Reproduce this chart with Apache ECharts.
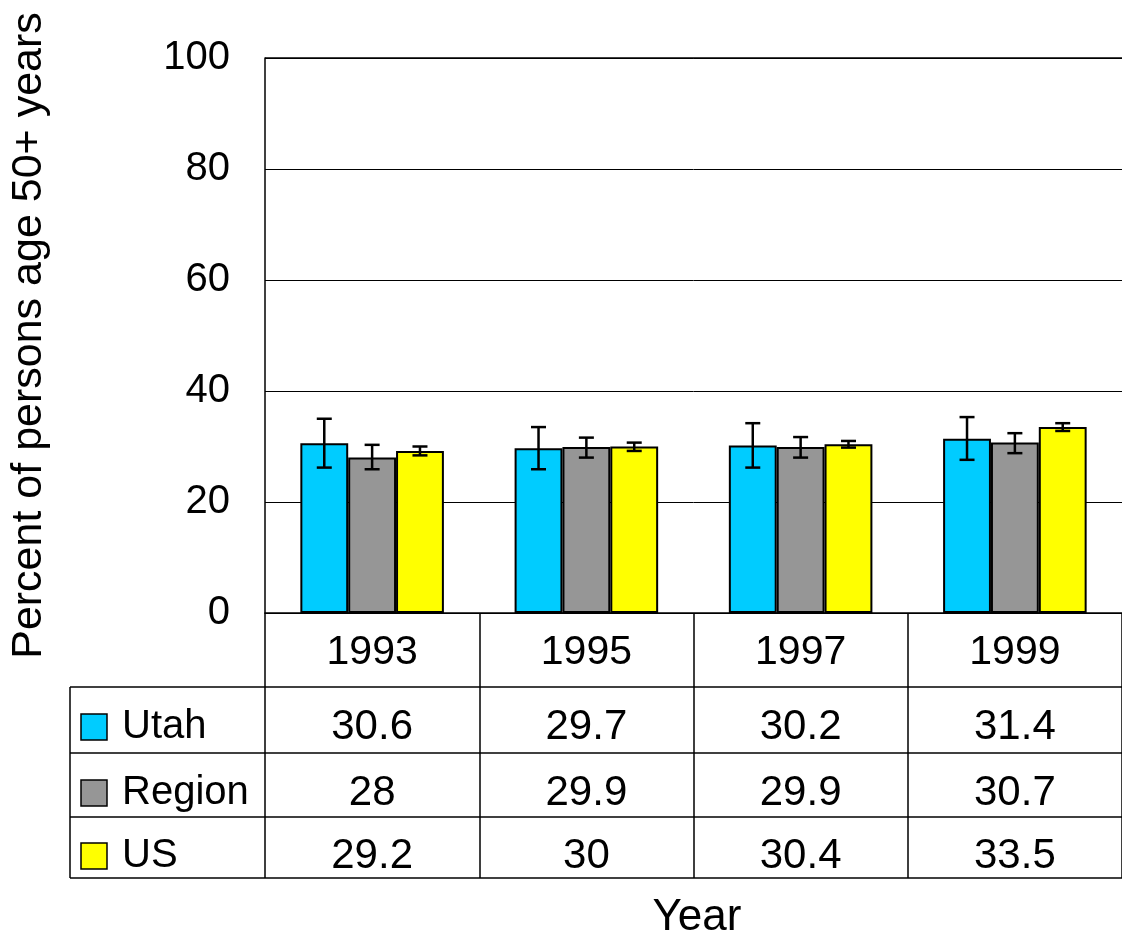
<!DOCTYPE html>
<html>
<head>
<meta charset="utf-8">
<script src="https://cdn.jsdelivr.net/npm/echarts@6/dist/echarts.min.js"></script>
<style>
html,body{margin:0;padding:0;background:#fff;}
#main{width:1122px;height:939px;}
</style>
</head>
<body>
<div id="main"></div>
<script>
// ---- data ----
const years = ['1993', '1995', '1997', '1999'];
const seriesNames = ['Utah', 'Region', 'US'];
const utah = [30.6, 29.7, 30.2, 31.4];
const region = [28, 29.9, 29.9, 30.7];
const us = [29.2, 30, 30.4, 33.5];
const utahLow = [26.2, 25.9, 26.2, 27.6];
const utahHigh = [35.0, 33.5, 34.2, 35.3];
const regionLow = [25.9, 28.0, 28.0, 28.8];
const regionHigh = [30.3, 31.6, 31.7, 32.4];
const usLow = [28.4, 29.2, 29.8, 32.8];
const usHigh = [30.0, 30.7, 31.0, 34.2];
const yMin = 0, yMax = 100, yStep = 20;
const yTitle = 'Percent of persons age 50+ years';
const xTitle = 'Year';

// ---- layout / style ----
const FONT = '"Liberation Sans", Arial, sans-serif';
const colors = ['#00CCFF', '#969696', '#FFFF00'];
const G = { left: 265, top: 58, right: 0, bottom: 939 - 613 };
const plotBottom = 613;
const rowLines = [687, 753, 817, 878];
const rowCenters = [727, 793, 856];
const yearCenter = 653;
const tableLeft = 70;
const catGap = 0.33;

const values = [utah, region, us];
const lows = [utahLow, regionLow, usLow];
const highs = [utahHigh, regionHigh, usHigh];

const chart = echarts.init(document.getElementById('main'), null, { renderer: 'canvas' });

const barSeries = seriesNames.map((n, k) => ({
  name: n,
  type: 'bar',
  data: values[k],
  barGap: '0%',
  barCategoryGap: (catGap * 100) + '%',
  itemStyle: { color: colors[k], borderColor: '#000', borderWidth: 2 },
  z: 2
}));

const errSeries = seriesNames.map((n, k) => ({
  name: n + ' err',
  type: 'custom',
  z: 5,
  encode: { x: 0, y: [1, 2] },
  data: years.map((y, i) => [i, lows[k][i], highs[k][i]]),
  renderItem: function (params, api) {
    const i = api.value(0);
    const pLo = api.coord([i, api.value(1)]);
    const pHi = api.coord([i, api.value(2)]);
    const band = api.size([1, 0])[0];
    const barW = band * (1 - catGap) / 3;
    const x = pLo[0] + (k - 1) * barW;
    const cw = 7.5;
    const st = { stroke: '#000', lineWidth: 2.5 };
    return {
      type: 'group',
      children: [
        { type: 'line', shape: { x1: x, y1: pLo[1], x2: x, y2: pHi[1] }, style: st },
        { type: 'line', shape: { x1: x - cw, y1: pLo[1], x2: x + cw, y2: pLo[1] }, style: st },
        { type: 'line', shape: { x1: x - cw, y1: pHi[1], x2: x + cw, y2: pHi[1] }, style: st }
      ]
    };
  }
}));

function tableAxis(margin, formatter) {
  return {
    type: 'category', data: years, position: 'bottom', gridIndex: 0,
    axisLine: { show: false }, axisTick: { show: false }, splitLine: { show: false },
    axisLabel: { margin: margin, fontSize: 42, fontFamily: FONT, color: '#000',
      verticalAlign: 'middle', interval: 0, formatter: formatter }
  };
}

const graphics = [];
graphics.push({ type: 'line', shape: { x1: G.left, y1: G.top, x2: 1122, y2: G.top },
  style: { stroke: '#000', lineWidth: 1.5 }, z: 10 });
rowLines.forEach((y) => {
  graphics.push({ type: 'line', shape: { x1: tableLeft, y1: y, x2: 1122, y2: y },
    style: { stroke: '#000', lineWidth: 1.5 }, z: 10 });
});
graphics.push({ type: 'line', shape: { x1: tableLeft, y1: rowLines[0], x2: tableLeft, y2: rowLines[rowLines.length - 1] },
  style: { stroke: '#000', lineWidth: 1.5 }, z: 10 });
seriesNames.forEach((n, k) => {
  graphics.push({ type: 'rect', shape: { x: 81, y: rowCenters[k] - 13, width: 26, height: 26 },
    style: { fill: colors[k], stroke: '#000', lineWidth: 1.5 }, z: 10 });
  graphics.push({ type: 'text', x: 122, y: rowCenters[k],
    style: { text: n, fontSize: 40, fontFamily: FONT, fill: '#000', verticalAlign: 'middle', align: 'left' }, z: 10 });
});
graphics.push({ type: 'text', x: 697, y: 918,
  style: { text: xTitle, fontSize: 44, fontFamily: FONT, fill: '#000', align: 'center', verticalAlign: 'middle' } });

const option = {
  backgroundColor: '#fff',
  animation: false,
  grid: { left: G.left, right: G.right, top: G.top, bottom: G.bottom, containLabel: false },
  xAxis: [
    {
      type: 'category', data: years, position: 'bottom',
      axisLine: { show: true, lineStyle: { color: '#000', width: 1.5 } },
      axisTick: { show: true, inside: false, length: 878 - 613, alignWithLabel: false,
        lineStyle: { color: '#000', width: 1.5 } },
      axisLabel: { margin: yearCenter - plotBottom, fontSize: 41, fontFamily: FONT, color: '#000',
        verticalAlign: 'middle', interval: 0 }
    },
    tableAxis(rowCenters[0] - plotBottom, (v, i) => String(utah[i])),
    tableAxis(rowCenters[1] - plotBottom, (v, i) => String(region[i])),
    tableAxis(rowCenters[2] - plotBottom, (v, i) => String(us[i]))
  ],
  yAxis: {
    type: 'value', min: yMin, max: yMax, interval: yStep,
    name: yTitle, nameLocation: 'middle', nameGap: 214,
    nameTextStyle: { fontSize: 43, fontFamily: FONT, color: '#000' },
    axisLine: { show: true, lineStyle: { color: '#000', width: 1.5 } },
    axisTick: { show: false },
    axisLabel: { margin: 35, fontSize: 40, fontFamily: FONT, color: '#000' },
    splitLine: { show: true, lineStyle: { color: '#000', width: 1 } }
  },
  series: barSeries.concat(errSeries),
  graphic: graphics
};
chart.setOption(option);
</script>
</body>
</html>
